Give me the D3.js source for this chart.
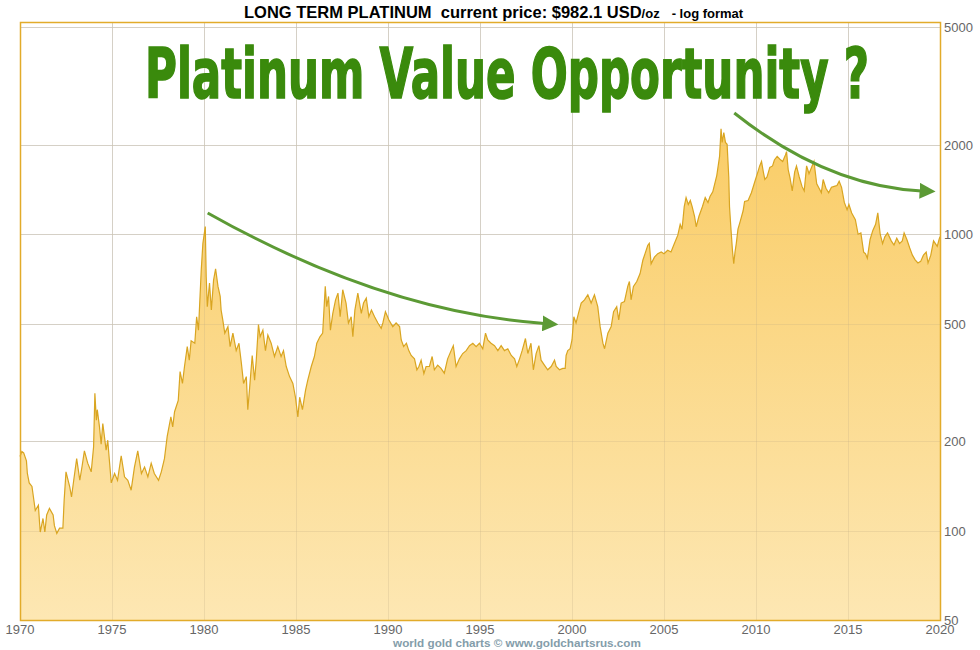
<!DOCTYPE html>
<html>
<head>
<meta charset="utf-8">
<script src="https://cdn.jsdelivr.net/npm/d3@7"></script>
<style>
  body { margin: 0; background: #fff; }
  svg { display: block; font-family: "Liberation Sans", Arial, sans-serif; }
</style>
</head>
<body>
<div id="chart"></div>
<script>
// platinum price, USD/oz
const dates = [
  1970.00,1970.10,1970.20,1970.35,1970.40,1970.50,1970.65,1970.73,1970.83,1971.00,1971.06,1971.10,1971.25,1971.35,1971.45,1971.60,1971.80,1971.87,
  1972.00,1972.15,1972.33,1972.40,1972.50,1972.70,1972.80,1972.92,1973.08,1973.25,1973.38,1973.50,1973.68,1973.87,
  1974.00,1974.07,1974.15,1974.20,1974.32,1974.41,1974.50,1974.68,1974.77,1974.85,1974.96,1975.14,1975.30,1975.50,1975.68,1975.86,
  1976.04,1976.22,1976.40,1976.60,1976.77,1976.95,1977.13,1977.30,1977.53,1977.68,1977.85,
  1978.00,1978.20,1978.30,1978.40,1978.60,1978.70,1978.83,1978.94,1979.09,1979.20,1979.30,1979.50,1979.60,1979.70,1979.85,1979.94,
  1980.07,1980.12,1980.18,1980.30,1980.40,1980.52,1980.63,1980.76,1980.88,1980.93,1981.02,1981.13,1981.30,1981.42,1981.57,1981.75,1981.90,
  1982.03,1982.15,1982.30,1982.38,1982.47,1982.62,1982.75,1982.84,1982.96,1983.05,1983.20,1983.34,1983.47,1983.65,1983.83,
  1984.01,1984.19,1984.32,1984.47,1984.65,1984.83,1984.97,1985.10,1985.20,1985.35,1985.52,1985.64,1985.83,
  1986.00,1986.13,1986.30,1986.45,1986.59,1986.67,1986.77,1986.87,1987.00,1987.15,1987.28,1987.40,1987.54,1987.72,1987.85,
  1988.00,1988.09,1988.20,1988.36,1988.55,1988.67,1988.82,1988.96,1989.10,1989.27,1989.45,1989.63,1989.72,1989.86,
  1990.05,1990.26,1990.44,1990.63,1990.72,1990.85,1991.00,1991.13,1991.26,1991.44,1991.57,1991.68,1991.80,1991.95,
  1992.07,1992.25,1992.40,1992.52,1992.70,1992.88,1993.06,1993.24,1993.43,1993.55,1993.70,1993.88,
  1994.06,1994.25,1994.43,1994.61,1994.79,1994.97,1995.15,1995.30,1995.42,1995.60,1995.79,1995.97,
  1996.15,1996.33,1996.51,1996.70,1996.88,1997.00,1997.15,1997.29,1997.47,1997.60,1997.77,1997.90,
  1998.05,1998.20,1998.32,1998.50,1998.68,1998.87,1999.05,1999.14,1999.32,1999.50,1999.63,1999.68,1999.77,1999.90,
  2000.00,2000.10,2000.22,2000.35,2000.50,2000.68,2000.86,2001.04,2001.22,2001.40,2001.53,2001.68,2001.77,2001.95,
  2002.13,2002.26,2002.43,2002.54,2002.67,2002.85,2003.03,2003.12,2003.21,2003.34,2003.52,2003.70,2003.85,2003.97,
  2004.12,2004.20,2004.30,2004.48,2004.66,2004.85,2005.00,2005.20,2005.38,2005.57,2005.75,2005.88,2005.98,
  2006.10,2006.20,2006.32,2006.43,2006.53,2006.66,2006.75,2006.90,2007.09,2007.24,2007.39,2007.50,2007.65,2007.78,2007.87,
  2008.02,2008.10,2008.16,2008.25,2008.34,2008.43,2008.52,2008.56,2008.64,2008.72,2008.79,2008.86,2008.93,
  2009.02,2009.15,2009.30,2009.38,2009.57,2009.75,2009.93,
  2010.10,2010.20,2010.30,2010.40,2010.48,2010.60,2010.75,2010.90,2011.00,2011.15,2011.30,2011.45,2011.60,2011.66,2011.75,2011.85,2011.97,
  2012.10,2012.20,2012.35,2012.50,2012.62,2012.75,2012.88,2013.05,2013.15,2013.30,2013.45,2013.55,2013.65,2013.80,2013.95,
  2014.10,2014.25,2014.40,2014.52,2014.65,2014.80,2014.95,2015.05,2015.20,2015.40,2015.55,2015.70,2015.85,2015.95,
  2016.05,2016.20,2016.35,2016.50,2016.62,2016.75,2016.88,2017.00,2017.15,2017.35,2017.50,2017.65,2017.80,2017.95,
  2018.05,2018.20,2018.35,2018.50,2018.65,2018.80,2018.95,2019.10,2019.25,2019.35,2019.50,2019.65,2019.75,2019.85,2019.95,2020.00
];
const prices = [
  178,185,183,172,156,145,141,130,117,122,107,99,110,99,113,119,113,104,
  98,102,102,127,158,141,130,148,175,148,166,186,169,158,
  192,291,236,256,224,196,230,187,202,175,145,156,148,179,152,148,
  137,164,186,156,164,152,169,156,148,158,175,
  208,242,224,252,275,344,314,358,418,376,437,429,527,475,757,932,
  1061,718,570,684,555,700,765,667,617,555,514,464,488,418,464,405,429,
  368,314,331,256,298,390,322,376,496,451,475,405,457,429,387,
  418,387,405,358,331,314,282,242,282,256,298,322,358,
  387,429,451,464,667,570,617,475,541,601,633,527,650,586,502,
  527,451,555,633,541,586,609,527,555,527,502,482,502,548,
  514,488,502,488,440,418,429,405,390,380,349,358,376,339,
  358,358,387,349,362,353,340,380,405,421,358,380,
  396,405,421,429,418,429,411,464,440,429,421,405,
  421,405,411,390,380,358,380,405,445,396,429,349,
  396,421,376,362,349,358,376,358,349,353,353,390,405,411,
  440,527,502,541,586,601,625,586,625,570,488,429,411,464,
  488,548,570,514,586,593,667,693,601,667,693,737,817,860,
  918,932,795,837,860,871,860,883,871,932,993,1080,1040,
  1240,1330,1260,1300,1240,1150,1060,1150,1240,1330,1280,1340,1390,1500,1580,
  1830,2270,2040,2200,2040,2010,1560,1240,1040,883,795,871,932,
  1040,1110,1200,1290,1300,1380,1500,
  1620,1700,1760,1620,1530,1560,1680,1700,1780,1830,1790,1760,1850,1900,1650,1550,1400,
  1620,1700,1560,1450,1400,1700,1600,1700,1760,1480,1420,1380,1530,1430,1380,
  1440,1450,1460,1510,1440,1280,1210,1260,1180,1120,1000,1010,870,860,
  830,960,1030,1080,1180,1000,930,980,1010,950,920,970,930,950,
  1010,960,900,850,820,800,810,850,870,800,850,950,930,910,960,982
];
const yTicks = [50, 100, 200, 500, 1000, 2000, 5000];
const xTicks = [1970, 1975, 1980, 1985, 1990, 1995, 2000, 2005, 2010, 2015, 2020];
// trend arrows: [year, price] start, control, end
const arrows = [
  [[1980.2, 1180], [1989.73, 547], [1998.5, 500]],
  [[2008.82, 2565], [2013.85, 1450], [2019.0, 1400]]
];

const data = dates.map((d, i) => ({date: d, price: prices[i]}));

const W = 980, H = 650;
const margin = {top: 22, right: 40, bottom: 30, left: 20};

const svg = d3.select("#chart").append("svg")
    .attr("width", W)
    .attr("height", H);

const x = d3.scaleLinear()
    .domain([1970, 2020])
    .range([margin.left, W - margin.right]);

const y = d3.scaleLog()
    .domain([50, 5000])
    .range([H - margin.bottom, 27]);

const defs = svg.append("defs");
const grad = defs.append("linearGradient")
    .attr("id", "fillGrad")
    .attr("gradientUnits", "userSpaceOnUse")
    .attr("x1", 0).attr("y1", margin.top)
    .attr("x2", 0).attr("y2", H - margin.bottom);
grad.append("stop").attr("offset", "0%").attr("stop-color", "#f9c756");
grad.append("stop").attr("offset", "100%").attr("stop-color", "#fde7b3");

defs.append("marker")
    .attr("id", "head")
    .attr("markerUnits", "userSpaceOnUse")
    .attr("viewBox", "0 -8 16 16")
    .attr("refX", 2).attr("refY", 0)
    .attr("markerWidth", 16).attr("markerHeight", 16)
    .attr("orient", "auto")
  .append("path")
    .attr("d", "M0,-8L16,0L0,8Z")
    .attr("fill", "#5c9a35");

// grid under the area
const grid = svg.append("g");
grid.selectAll(".gx")
  .data(xTicks)
  .join("line")
    .attr("x1", d => x(d) + 0.5).attr("x2", d => x(d) + 0.5)
    .attr("y1", margin.top).attr("y2", H - margin.bottom)
    .attr("stroke", "#dcdcdc");
grid.selectAll(".gy")
  .data(yTicks)
  .join("line")
    .attr("x1", margin.left).attr("x2", W - margin.right)
    .attr("y1", d => Math.round(y(d)) + 0.5).attr("y2", d => Math.round(y(d)) + 0.5)
    .attr("stroke", "#dcdcdc");

svg.append("path")
    .datum(data)
    .attr("fill", "url(#fillGrad)")
    .attr("d", d3.area()
      .x(d => x(d.date))
      .y0(H - margin.bottom)
      .y1(d => y(d.price)));

// faint grid over the area
const grid2 = svg.append("g").attr("stroke", "rgba(190,170,130,0.25)");
grid2.selectAll("line.v")
  .data(xTicks)
  .join("line")
    .attr("x1", d => x(d) + 0.5).attr("x2", d => x(d) + 0.5)
    .attr("y1", margin.top).attr("y2", H - margin.bottom);
grid2.selectAll("line.h")
  .data(yTicks)
  .enter().append("line")
    .attr("x1", margin.left).attr("x2", W - margin.right)
    .attr("y1", d => Math.round(y(d)) + 0.5).attr("y2", d => Math.round(y(d)) + 0.5);

svg.append("path")
    .datum(data)
    .attr("fill", "none")
    .attr("stroke", "#d9a521")
    .attr("stroke-width", 1.2)
    .attr("d", d3.line()
      .x(d => x(d.date))
      .y(d => y(d.price)));

// frame
svg.append("rect")
    .attr("x", margin.left + 0.5)
    .attr("y", margin.top + 0.5)
    .attr("width", W - margin.left - margin.right)
    .attr("height", H - margin.top - margin.bottom)
    .attr("fill", "none")
    .attr("stroke", "#e2ab2a")
    .attr("stroke-width", 1.5);

// axes labels
svg.append("g")
  .selectAll("text")
  .data(yTicks)
  .join("text")
    .attr("x", W - margin.right + 4)
    .attr("y", d => y(d) + 5)
    .attr("font-size", 13)
    .attr("fill", "#666")
    .text(d => d);

svg.append("g")
  .selectAll("text")
  .data(xTicks)
  .join("text")
    .attr("x", d => x(d))
    .attr("y", H - margin.bottom + 14)
    .attr("text-anchor", "middle")
    .attr("font-size", 13)
    .attr("fill", "#666")
    .text(d => d);

// arrows
arrows.forEach(a => {
  const p = a.map(d => [x(d[0]), y(d[1])]);
  const path = d3.path();
  path.moveTo(p[0][0], p[0][1]);
  path.quadraticCurveTo(p[1][0], p[1][1], p[2][0], p[2][1]);
  svg.append("path")
      .attr("d", path.toString())
      .attr("fill", "none")
      .attr("stroke", "#5c9a35")
      .attr("stroke-width", 3)
      .attr("marker-end", "url(#head)");
});

// big headline
svg.append("text")
    .attr("x", 145)
    .attr("y", 98)
    .attr("textLength", 724)
    .attr("lengthAdjust", "spacingAndGlyphs")
    .attr("font-family", "'DejaVu Sans Condensed', 'DejaVu Sans', sans-serif")
    .attr("font-weight", "bold")
    .attr("font-size", 70)
    .attr("fill", "#3a8a0c")
    .attr("stroke", "#3a8a0c")
    .attr("stroke-width", 1.6)
    .text("Platinum Value Opportunity ?");

// title
const title = svg.append("text")
    .attr("x", 244)
    .attr("y", 18)
    .attr("font-weight", "bold")
    .attr("fill", "#000");
title.append("tspan").attr("font-size", 16.5).text("LONG TERM PLATINUM \u00a0current price: $982.1 USD");
title.append("tspan").attr("font-size", 13).text("/oz");
title.append("tspan").attr("font-size", 13).attr("dx", 12).text("- log format");

svg.append("text")
    .attr("x", 517)
    .attr("y", 647)
    .attr("text-anchor", "middle")
    .attr("font-size", 11.7)
    .attr("font-weight", "bold")
    .attr("fill", "#849daa")
    .text("world gold charts © www.goldchartsrus.com");
</script>
</body>
</html>
